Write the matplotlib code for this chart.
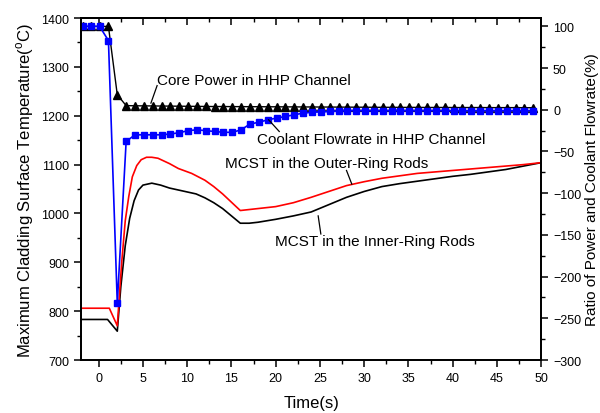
import matplotlib
matplotlib.use('Agg')
import matplotlib.pyplot as plt
from matplotlib.ticker import MultipleLocator

plt.rcParams['font.family'] = ['Liberation Sans', 'DejaVu Sans']
plt.rcParams['mathtext.fontset'] = 'custom'
plt.rcParams['mathtext.rm'] = 'Liberation Sans'

# power / flowrate samples (right axis, %)
t_hhp = [-1.8, -0.9, 0.1, 1.1, 2.1, 3.1, 4.1, 5.1, 6.1, 7.1, 8.1, 9.1, 10.1,
         11.1, 12.1, 13.1, 14.1, 15.1, 16.1, 17.1, 18.1, 19.1, 20.1, 21.1,
         22.1, 23.1, 24.1, 25.1, 26.1, 27.1, 28.1, 29.1, 30.1, 31.1, 32.1,
         33.1, 34.1, 35.1, 36.1, 37.1, 38.1, 39.1, 40.1, 41.1, 42.1, 43.1,
         44.1, 45.1, 46.1, 47.1, 48.1, 49.1]
core_power = [100, 100, 100, 100, 18, 5, 4.8, 4.7, 4.6, 4.5, 4.4, 4.3, 4.2,
              4.1, 4.0, 3.9, 3.9, 3.8, 3.8, 3.7, 3.7, 3.6, 3.6, 3.5, 3.5,
              3.4, 3.4, 3.3, 3.3, 3.2, 3.2, 3.1, 3.1, 3.0, 3.0, 3.0, 2.9,
              2.9, 2.9, 2.8, 2.8, 2.8, 2.7, 2.7, 2.7, 2.7, 2.6, 2.6, 2.6,
              2.6, 2.5, 2.5]
coolant_flow = [100, 100, 100, 83, -232, -38, -30, -30, -30, -30, -29, -27.5,
                -25, -24, -25, -26, -27, -27, -24, -17, -15, -12, -10, -8,
                -6, -4, -3, -2.5, -2, -1.5, -1, -1, -1, -1, -1, -1, -1, -1,
                -1, -1, -1, -1, -1, -1, -1, -1, -1, -1, -1, -1, -1, -1]

# MCST, inner ring rods
t_inner = [-2, 1.0, 2.1, 2.5, 3.0, 3.5, 4.0, 4.5, 5.0, 6.0, 7.0, 8.0, 9.0,
           10.0, 11.0, 12.0, 13.0, 14.0, 15.0, 16.0, 17.0, 18.0, 20.0, 22.0,
           24.0, 26.0, 28.0, 30.0, 32.0, 34.0, 36.0, 38.0, 40.0, 42.0, 44.0,
           46.0, 48.0, 50.0]
mcst_inner = [783, 783, 759, 850, 934, 990, 1026, 1048, 1058, 1062, 1058,
              1052, 1048, 1044, 1040, 1032, 1022, 1010, 995, 980, 980, 982,
              988, 995, 1003, 1018, 1033, 1045, 1055, 1061, 1066, 1071, 1076,
              1080, 1085, 1090, 1097, 1104]

# MCST, outer ring rods
t_outer = [-2, 1.2, 2.1, 2.6, 3.0, 3.4, 3.8, 4.3, 4.8, 5.4, 6.0, 6.7, 8.0,
           9.0, 10.5, 12.0, 13.0, 14.0, 15.0, 16.0, 17.0, 18.0, 20.0, 22.0,
           24.0, 26.0, 28.0, 30.0, 32.0, 34.0, 36.0, 38.0, 40.0, 42.0, 44.0,
           46.0, 48.0, 50.0]
mcst_outer = [806, 806, 770, 900, 985, 1035, 1075, 1098, 1110, 1115, 1115,
              1113, 1102, 1092, 1082, 1068, 1055, 1040, 1023, 1006, 1008,
              1010, 1014, 1022, 1033, 1045, 1057, 1065, 1072, 1077, 1082,
              1085, 1088, 1091, 1094, 1097, 1100, 1104]

fig = plt.figure(figsize=(6.0, 4.14), dpi=100)
ax = fig.add_axes([0.135, 0.128, 0.767, 0.826])
ax2 = ax.twinx()

ax.plot(t_inner, mcst_inner, color='black', lw=1.2)
ax.plot(t_outer, mcst_outer, color='red', lw=1.2)
ax2.plot(t_hhp, core_power, color='black', lw=1.0, marker='^', ms=5.5)
ax2.plot(t_hhp, coolant_flow, color='blue', lw=1.2, marker='s', ms=5,
         mec='blue', mfc='blue')

ax.set_xlim(-2, 50)
ax.set_ylim(700, 1400)
ax2.set_ylim(-300, 110)

ax.xaxis.set_major_locator(MultipleLocator(5))
ax.xaxis.set_minor_locator(MultipleLocator(2.5))
ax.yaxis.set_major_locator(MultipleLocator(100))
ax.yaxis.set_minor_locator(MultipleLocator(50))
ax2.yaxis.set_major_locator(MultipleLocator(50))
ax2.yaxis.set_minor_locator(MultipleLocator(25))

for a in (ax, ax2):
    for s in a.spines.values():
        s.set_linewidth(1.3)
ax.tick_params(which='major', direction='out', length=5, width=1.1, labelsize=9)
ax.tick_params(which='minor', direction='out', length=3, width=1.0)
ax2.tick_params(which='major', direction='out', length=5, width=1.1, labelsize=9)
ax2.tick_params(which='minor', direction='out', length=3, width=1.0)

top = ax.secondary_xaxis('top')
top.xaxis.set_major_locator(MultipleLocator(5))
top.xaxis.set_minor_locator(MultipleLocator(2.5))
top.tick_params(which='major', direction='in', length=5, width=1.1, labeltop=False)
top.tick_params(which='minor', direction='in', length=3, width=1.0)
top.spines['top'].set_linewidth(1.3)

ax.set_xlabel('Time(s)', fontsize=12, labelpad=8)
ax.set_ylabel('Maximum Cladding Surface Temperature($^{\\mathrm{o}}$C)', fontsize=12)
ax2.set_ylabel('Ratio of Power and Coolant Flowrate(%)', fontsize=11, labelpad=3)

# curve labels with short leader lines
ax2.text(6.6, 36, 'Core Power in HHP Channel', fontsize=11, va='center')
ax2.plot([6.6, 5.9], [29, 8], color='black', lw=0.9)
ax2.text(17.9, -35, 'Coolant Flowrate in HHP Channel', fontsize=11, va='center')
ax2.plot([19.2, 20.4], [-12, -26], color='black', lw=0.9)
ax.text(14.3, 1103, 'MCST in the Outer-Ring Rods', fontsize=11, va='center')
ax.plot([28.0, 28.6], [1088, 1060], color='black', lw=0.9)
ax.text(19.9, 944, 'MCST in the Inner-Ring Rods', fontsize=11, va='center')
ax.plot([24.8, 25.1], [995, 958], color='black', lw=0.9)

fig.savefig('out.png', dpi=100)
